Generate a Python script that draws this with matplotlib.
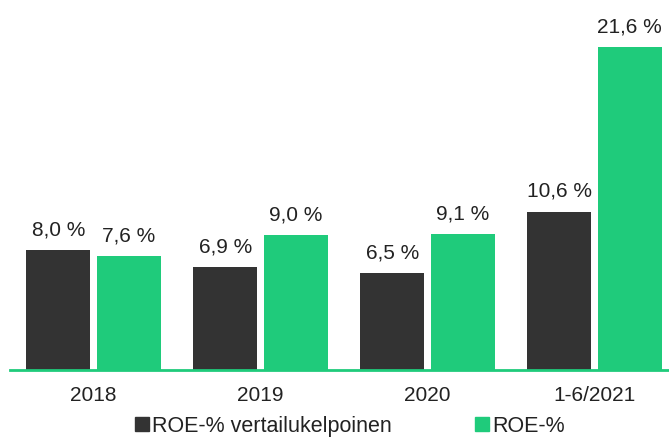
import matplotlib
matplotlib.use("Agg")
import matplotlib.pyplot as plt
from matplotlib.patches import Patch
import numpy as np

categories = ["2018", "2019", "2020", "1-6/2021"]
roe_comparable = [8.0, 6.9, 6.5, 10.6]
roe = [7.6, 9.0, 9.1, 21.6]
series_names = ["ROE-% vertailukelpoinen", "ROE-%"]

dark = "#333333"
green = "#1FCB7B"

plt.rcParams['font.family'] = ['Liberation Sans', 'DejaVu Sans']

fig = plt.figure(figsize=(6.69, 4.39), dpi=100)
ax = fig.add_axes([10/669, 68/439, 1 - 10/669, 1 - 68/439])

x = np.arange(len(categories))
w = 0.383
off = 0.21
b1 = ax.bar(x - off, roe_comparable, w, color=dark)
b2 = ax.bar(x + off, roe, w, color=green)

def fmt(v):
    return f"{v:.1f}".replace(".", ",") + " %"

for bars, vals in ((b1, roe_comparable), (b2, roe)):
    for r, v in zip(bars, vals):
        ax.annotate(fmt(v), (r.get_x() + r.get_width()/2, r.get_height()),
                    xytext=(0, 8.5), textcoords="offset points",
                    ha="center", va="bottom", fontsize=15, color="#222222")

ax.set_xlim(-0.5, (669 - 93.5) / 167)
ax.set_ylim(0, 371 / 14.95)
ax.set_xticks(x)
ax.set_xticklabels(categories, fontsize=15, color="#222222")
ax.tick_params(axis="x", length=0, pad=11)
ax.set_yticks([])
for s in ["top", "right", "left"]:
    ax.spines[s].set_visible(False)
ax.spines["bottom"].set_color(green)
ax.spines["bottom"].set_linewidth(2)

handles = [Patch(color=dark), Patch(color=green)]
fig.legend(handles, series_names, loc="center", bbox_to_anchor=(350/669, 12/439),
           ncol=2, frameon=False, fontsize=15.5, handlelength=0.65, handleheight=0.65,
           handletextpad=0.15, columnspacing=3.86, labelcolor="#222222",
           borderpad=0, borderaxespad=0)

fig.savefig("out.png", dpi=100)
